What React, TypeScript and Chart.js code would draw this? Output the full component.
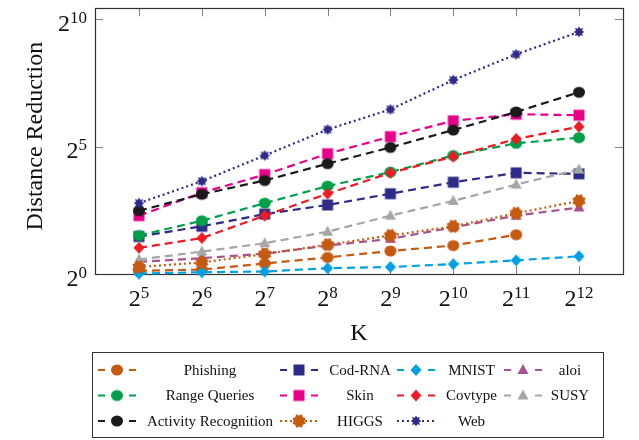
import React, { useEffect, useRef } from "react";
import { Chart, registerables } from "chart.js";

Chart.register(...registerables);

// K values (x axis, 2^5 .. 2^12)
const K = [32, 64, 128, 256, 512, 1024, 2048, 4096];
const xTickExps = [5, 6, 7, 8, 9, 10, 11, 12];
const yTickExps = [0, 5, 10];

// Distance reduction per dataset
const phishing = [1.09, 1.13, 1.33, 1.57, 1.87, 2.17, 2.91, null];
const codRna = [2.77, 3.66, 5.1, 6.54, 8.88, 12.13, 15.67, 15.24];
const mnist = [1.01, 1.05, 1.07, 1.17, 1.21, 1.31, 1.45, 1.62];
const aloi = [1.39, 1.54, 1.74, 2.17, 2.6, 3.56, 4.89, 6.11];
const rangeQueries = [2.85, 4.26, 6.87, 10.93, 16.0, 25.1, 35.0, 40.8];
const skin = [4.89, 9.13, 14.93, 26.35, 41.9, 64.4, 77.2, 75.1];
const covtype = [2.04, 2.66, 4.89, 8.88, 15.67, 24.4, 39.4, 54.9];
const susy = [1.48, 1.84, 2.31, 3.16, 4.89, 7.31, 11.39, 17.15];
const activity = [5.58, 8.75, 12.73, 20.1, 31.3, 50.2, 82.1, 140.1];
const higgs = [1.21, 1.37, 1.72, 2.22, 2.85, 3.66, 5.21, 7.31];
const web = [6.87, 12.47, 25.1, 50.9, 88.0, 195.4, 393.4, 724.1];

const ORANGE = "#C55A11";
const GREEN = "#00A04A";
const BLACK = "#1A1A1A";
const NAVY = "#2E2A88";
const PINK = "#E8008A";
const LBLUE = "#00A0E3";
const RED = "#ED1C24";
const PURPLE = "#A8528F";
const GRAY = "#A6A6A6";

type Shape = "circle" | "square" | "diamond" | "triangle" | "star" | "star2";

function makeMarker(shape: Shape, color: string): HTMLCanvasElement {
  const c = document.createElement("canvas");
  const S = 18;
  c.width = S;
  c.height = S;
  const g = c.getContext("2d")!;
  const m = S / 2;
  g.fillStyle = color;
  g.beginPath();
  if (shape === "circle") {
    g.ellipse(m, m, 6, 5.5, 0, 0, Math.PI * 2);
  } else if (shape === "square") {
    g.rect(m - 5.5, m - 5.5, 11, 11);
  } else if (shape === "diamond") {
    g.moveTo(m, m - 6);
    g.lineTo(m + 5.5, m);
    g.lineTo(m, m + 6);
    g.lineTo(m - 5.5, m);
    g.closePath();
  } else if (shape === "triangle") {
    g.moveTo(m, m - 6);
    g.lineTo(m + 5.5, m + 4);
    g.lineTo(m - 5.5, m + 4);
    g.closePath();
  } else {
    const n = 8;
    const ro = shape === "star" ? 7.2 : 5.5;
    const ri = shape === "star" ? 5.4 : 3.4;
    const off = shape === "star" ? Math.PI / 8 : 0;
    for (let i = 0; i < n * 2; i++) {
      const r = i % 2 === 0 ? ro : ri;
      const a = -Math.PI / 2 + off + (i * Math.PI) / n;
      const px = m + r * Math.cos(a);
      const py = m + r * Math.sin(a);
      if (i === 0) g.moveTo(px, py);
      else g.lineTo(px, py);
    }
    g.closePath();
  }
  g.fill();
  return c;
}

type Series = {
  label: string;
  data: (number | null)[];
  color: string;
  shape: Shape;
  dotted: boolean;
};

// plotting / legend order (legend is filled row by row, 4 columns)
const SERIES: Series[] = [
  { label: "Phishing", data: phishing, color: ORANGE, shape: "circle", dotted: false },
  { label: "Cod-RNA", data: codRna, color: NAVY, shape: "square", dotted: false },
  { label: "MNIST", data: mnist, color: LBLUE, shape: "diamond", dotted: false },
  { label: "aloi", data: aloi, color: PURPLE, shape: "triangle", dotted: false },
  { label: "Range Queries", data: rangeQueries, color: GREEN, shape: "circle", dotted: false },
  { label: "Skin", data: skin, color: PINK, shape: "square", dotted: false },
  { label: "Covtype", data: covtype, color: RED, shape: "diamond", dotted: false },
  { label: "SUSY", data: susy, color: GRAY, shape: "triangle", dotted: false },
  { label: "Activity Recognition", data: activity, color: BLACK, shape: "circle", dotted: false },
  { label: "HIGGS", data: higgs, color: ORANGE, shape: "star", dotted: true },
  { label: "Web", data: web, color: NAVY, shape: "star2", dotted: true },
];

const SERIF = '"Liberation Serif", "Times New Roman", serif';
const DASH = [8, 5];
const DOT = [2, 3];

function drawPow(ctx: CanvasRenderingContext2D, exp: number, x: number, baseline: number, align: "center" | "right") {
  ctx.save();
  ctx.fillStyle = "#111";
  ctx.textAlign = "left";
  ctx.textBaseline = "alphabetic";
  ctx.font = `24px ${SERIF}`;
  const w1 = ctx.measureText("2").width;
  ctx.font = `17px ${SERIF}`;
  const es = String(exp);
  const w2 = ctx.measureText(es).width;
  const total = w1 + w2;
  const x0 = align === "center" ? x - total / 2 : x - total;
  ctx.font = `24px ${SERIF}`;
  ctx.fillText("2", x0, baseline);
  ctx.font = `17px ${SERIF}`;
  ctx.fillText(es, x0 + w1, baseline - 8);
  ctx.restore();
}

export default function App() {
  const ref = useRef<HTMLCanvasElement | null>(null);

  useEffect(() => {
    document.body.style.margin = "0";
    const canvas = ref.current!;
    const markers = SERIES.map((s) => makeMarker(s.shape, s.color));

    const decor = {
      id: "decor",
      beforeDatasetsDraw(chart: any) {
        const ctx: CanvasRenderingContext2D = chart.ctx;
        const { left, right, top, bottom } = chart.chartArea;
        const xs = chart.scales.x;
        const ys = chart.scales.y;
        ctx.save();
        ctx.strokeStyle = "#808080";
        ctx.lineWidth = 1;
        const tl = 8;
        ctx.beginPath();
        xTickExps.forEach((e) => {
          const px = Math.round(xs.getPixelForValue(Math.pow(2, e))) + 0.5;
          ctx.moveTo(px, top);
          ctx.lineTo(px, top + tl);
          ctx.moveTo(px, bottom);
          ctx.lineTo(px, bottom - tl);
        });
        yTickExps.forEach((e) => {
          const py = Math.round(ys.getPixelForValue(Math.pow(2, e))) + 0.5;
          ctx.moveTo(left, py);
          ctx.lineTo(left + tl, py);
          ctx.moveTo(right, py);
          ctx.lineTo(right - tl, py);
        });
        ctx.stroke();
        ctx.strokeStyle = "#333";
        ctx.lineWidth = 1.2;
        ctx.strokeRect(Math.round(left) + 0.5, Math.round(top) + 0.5, Math.round(right - left), Math.round(bottom - top));
        ctx.restore();
      },
      afterDraw(chart: any) {
        const ctx: CanvasRenderingContext2D = chart.ctx;
        const { left, right, top, bottom } = chart.chartArea;
        const xs = chart.scales.x;
        const ys = chart.scales.y;
        // tick labels
        xTickExps.forEach((e) => {
          drawPow(ctx, e, xs.getPixelForValue(Math.pow(2, e)), bottom + 31.5, "center");
        });
        yTickExps.forEach((e) => {
          drawPow(ctx, e, left - 8, ys.getPixelForValue(Math.pow(2, e)) + 11.5, "right");
        });
        // axis titles
        ctx.save();
        ctx.fillStyle = "#111";
        ctx.font = `24px ${SERIF}`;
        ctx.textAlign = "center";
        ctx.textBaseline = "alphabetic";
        ctx.fillText("K", (left + right) / 2, bottom + 66);
        ctx.translate(42, (top + bottom) / 2 - 5);
        ctx.rotate(-Math.PI / 2);
        ctx.fillText("Distance Reduction", 0, 0);
        ctx.restore();

        // legend
        ctx.save();
        ctx.strokeStyle = "#333";
        ctx.lineWidth = 1;
        ctx.strokeRect(92.5, 352.5, 511, 85);
        const rowsY = [370, 395.5, 421];
        const markX = [117, 299, 416, 523];
        const textX = [210, 360, 471.5, 570];
        ctx.font = `15px ${SERIF}`;
        ctx.textAlign = "center";
        ctx.textBaseline = "middle";
        SERIES.forEach((s, i) => {
          const r = Math.floor(i / 4);
          const c = i % 4;
          const y = rowsY[r];
          const mx = markX[c];
          ctx.strokeStyle = s.color;
          ctx.lineWidth = 2.2;
          ctx.beginPath();
          if (s.dotted) {
            ctx.setLineDash(DOT);
            ctx.moveTo(mx - 19, y);
            ctx.lineTo(mx + 19, y);
          } else {
            ctx.setLineDash([]);
            ctx.moveTo(mx - 19, y);
            ctx.lineTo(mx - 12, y);
            ctx.moveTo(mx + 12, y);
            ctx.lineTo(mx + 19, y);
          }
          ctx.stroke();
          ctx.setLineDash([]);
          const mk = markers[i];
          ctx.drawImage(mk, mx - mk.width / 2, y - mk.height / 2);
          ctx.fillStyle = "#111";
          ctx.fillText(s.label, textX[c], y + 1);
        });
        ctx.restore();
      },
    };

    const chart = new Chart(canvas, {
      type: "line",
      data: {
        datasets: SERIES.map((s, i) => ({
          label: s.label,
          data: s.data
            .map((v, j) => ({ x: K[j], y: v }))
            .filter((p) => p.y != null) as any,
          borderColor: s.color,
          backgroundColor: s.color,
          borderWidth: 2.2,
          borderDash: s.dotted ? DOT : DASH,
          pointStyle: markers[i] as any,
          pointRadius: 6,
          pointHoverRadius: 6,
          fill: false,
          tension: 0,
          clip: false as any,
          order: SERIES.length - i,
        })),
      },
      options: {
        responsive: false,
        animation: false,
        devicePixelRatio: 1,
        events: [],
        layout: { padding: { left: 0, right: 16, top: 5, bottom: 0 } },
        plugins: { legend: { display: false }, tooltip: { enabled: false }, title: { display: false } },
        scales: {
          x: {
            type: "logarithmic",
            min: Math.pow(2, 4.3),
            max: Math.pow(2, 12.7),
            bounds: "data",
            ticks: { display: false },
            grid: { display: false },
            border: { display: false },
            afterFit(s: any) {
              s.height = 166;
            },
          },
          y: {
            type: "logarithmic",
            min: 1,
            max: Math.pow(2, 10.43),
            bounds: "data",
            ticks: { display: false },
            grid: { display: false },
            border: { display: false },
            afterFit(s: any) {
              s.width = 95;
            },
          },
        } as any,
      },
      plugins: [decor],
    });
    return () => chart.destroy();
  }, []);

  return (
    <div style={{ width: 639, height: 440 }}>
      <canvas ref={ref} width={639} height={440} style={{ display: "block", width: 639, height: 440 }} />
    </div>
  );
}
